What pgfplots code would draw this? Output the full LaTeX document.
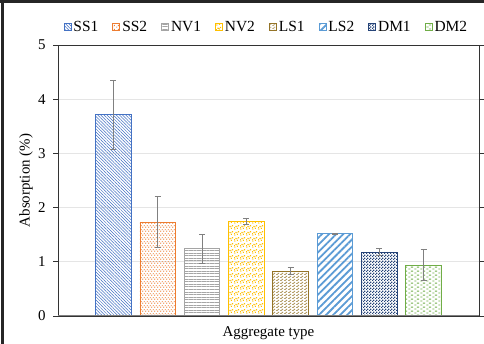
\documentclass[border=0pt]{standalone}
\usepackage{pgfplots}
\pgfplotsset{compat=1.18}
\usepackage{fontspec}
\setmainfont{Liberation Serif}
\usetikzlibrary{patterns,patterns.meta}

\definecolor{cSSa}{HTML}{4472C4}
\definecolor{cSSb}{HTML}{ED7D31}
\definecolor{cNVa}{HTML}{A5A5A5}
\definecolor{cNVb}{HTML}{FFC000}
\definecolor{cLSa}{HTML}{947428}
\definecolor{cLSb}{HTML}{5B9BD5}
\definecolor{cDMa}{HTML}{264478}
\definecolor{cDMb}{HTML}{70AD47}

\pgfdeclarepatternformonly{vdash}{\pgfpointorigin}{\pgfpoint{3.4bp}{4bp}}{\pgfpoint{3.4bp}{4bp}}{%
  \pgfsetlinewidth{0.9bp}%
  \pgfpathmoveto{\pgfpoint{0.85bp}{0.3bp}}\pgfpathlineto{\pgfpoint{0.85bp}{1.7bp}}%
  \pgfpathmoveto{\pgfpoint{2.55bp}{2.3bp}}\pgfpathlineto{\pgfpoint{2.55bp}{3.7bp}}%
  \pgfusepath{stroke}}
\pgfdeclarepatternformonly{confetti}{\pgfpointorigin}{\pgfpoint{6bp}{6bp}}{\pgfpoint{6bp}{6bp}}{%
  \pgfpathrectangle{\pgfpoint{0.3bp}{0.4bp}}{\pgfpoint{1.3bp}{1.3bp}}%
  \pgfpathrectangle{\pgfpoint{3.2bp}{1.2bp}}{\pgfpoint{1.3bp}{1.3bp}}%
  \pgfpathrectangle{\pgfpoint{1.5bp}{3.4bp}}{\pgfpoint{1.3bp}{1.3bp}}%
  \pgfpathrectangle{\pgfpoint{4.4bp}{4.3bp}}{\pgfpoint{1.3bp}{1.3bp}}%
  \pgfpathrectangle{\pgfpoint{0.2bp}{2.3bp}}{\pgfpoint{0.9bp}{0.9bp}}%
  \pgfpathrectangle{\pgfpoint{3.0bp}{3.2bp}}{\pgfpoint{0.9bp}{0.9bp}}%
  \pgfusepath{fill}}
\pgfdeclarepatternformonly{smallbrick}{\pgfpointorigin}{\pgfpoint{4bp}{3bp}}{\pgfpoint{4bp}{3bp}}{%
  \pgfsetlinewidth{0.8bp}%
  \pgfpathmoveto{\pgfpoint{0.3bp}{0.75bp}}\pgfpathlineto{\pgfpoint{2.0bp}{0.75bp}}%
  \pgfpathmoveto{\pgfpoint{2.3bp}{2.25bp}}\pgfpathlineto{\pgfpoint{3.9bp}{2.25bp}}%
  \pgfpathmoveto{\pgfpoint{2.0bp}{0.75bp}}\pgfpathlineto{\pgfpoint{2.3bp}{1.5bp}}%
  \pgfusepath{stroke}}
\pgfdeclarepatternformonly{checker}{\pgfpointorigin}{\pgfpoint{3bp}{3bp}}{\pgfpoint{3bp}{3bp}}{%
  \pgfpathrectangle{\pgfpointorigin}{\pgfpoint{1.5bp}{1.5bp}}%
  \pgfpathrectangle{\pgfpoint{1.5bp}{1.5bp}}{\pgfpoint{1.5bp}{1.5bp}}%
  \pgfusepath{fill}}
\pgfdeclarepatternformonly{hdash}{\pgfpointorigin}{\pgfpoint{6bp}{4.4bp}}{\pgfpoint{6bp}{4.4bp}}{%
  \pgfsetlinewidth{1bp}%
  \pgfpathmoveto{\pgfpoint{0.3bp}{1.1bp}}\pgfpathlineto{\pgfpoint{2.8bp}{1.1bp}}%
  \pgfpathmoveto{\pgfpoint{3.3bp}{3.3bp}}\pgfpathlineto{\pgfpoint{5.8bp}{3.3bp}}%
  \pgfusepath{stroke}}

\newcommand{\fs}{\fontsize{15}{18}\selectfont}

\begin{document}
\begin{tikzpicture}
\useasboundingbox (0,0) rectangle (484bp,344bp);
\fill[white] (0,0) rectangle (484bp,344bp);
\draw[line width=3bp, black!85] (0,342.4bp) -- (484bp,342.4bp);
\draw[line width=3bp, black!85] (2.5bp,0) -- (2.5bp,344bp);
\begin{axis}[
  at={(58bp,28bp)}, anchor=south west,
  scale only axis, width=421bp, height=271bp,
  xmin=-1.25, xmax=8.25, ymin=0, ymax=5,
  ytick={0,1,2,3,4,5}, xtick=\empty,
  axis line style={black!80, line width=0.8bp},
  tick style={black!80, line width=0.8bp},
  tick align=outside, major tick length=5bp,
  ymajorgrids, major grid style={black!10, line width=0.8bp},
  /pgf/number format/assume math mode=true,
  ticklabel style={font=\fs},
  yticklabel style={xshift=-4bp},
  xlabel={Aggregate type},
  xlabel style={font=\fs, at={(axis description cs:0.5,0)}, anchor=north, yshift=-7bp},
  ylabel={Absorption (\%)},
  ylabel style={font=\fs, at={(axis description cs:-0.076,0.5)}, anchor=center},
  legend image code/.code={\draw[#1] (0bp,-3.5bp) rectangle (7bp,3.5bp);},
  legend style={draw=none, fill=none,
    nodes={font=\fontsize{15.5}{18}\selectfont},
    legend columns=-1, at={(0.495,1.066)}, anchor=center,
    /tikz/every even column/.append style={column sep=12bp}},
  every axis plot/.append style={ybar, bar width=35.5bp, bar shift=0pt, line width=0.9bp,
    error bars/y dir=both, error bars/y explicit,
    error bars/error bar style={line width=1bp, color=black!50, solid},
    error bars/error mark options={line width=1bp, color=black!50, mark size=3bp, rotate=90}},
]
\addplot[draw=cSSa, pattern={Lines[angle=-45,distance=2.2bp,line width=0.5bp]}, pattern color=cSSa]
  coordinates {(0,3.71) +- (0,0.63)};
\addplot[draw=cSSb, pattern=vdash, pattern color=cSSb]
  coordinates {(1,1.73) +- (0,0.47)};
\addplot[draw=cNVa, pattern={Lines[angle=0,distance=2.6bp,line width=0.6bp]}, pattern color=cNVa]
  coordinates {(2,1.24) +- (0,0.27)};
\addplot[draw=cNVb, pattern=confetti, pattern color=cNVb]
  coordinates {(3,1.74) +- (0,0.05)};
\addplot[draw=cLSa, pattern=smallbrick, pattern color=cLSa]
  coordinates {(4,0.83) +- (0,0.06)};
\addplot[draw=cLSb, pattern={Lines[angle=45,distance=5bp,line width=1.8bp]}, pattern color=cLSb]
  coordinates {(5,1.52) +- (0,0.01)};
\addplot[draw=cDMa, pattern=checker, pattern color=cDMa]
  coordinates {(6,1.18) +- (0,0.06)};
\addplot[draw=cDMb, pattern=hdash, pattern color=cDMb]
  coordinates {(7,0.935) +- (0,0.285)};
\legend{SS1,SS2,NV1,NV2,LS1,LS2,DM1,DM2}
\draw[black!50, line width=1.6bp] (rel axis cs:0,0) -- (rel axis cs:1,0);
\end{axis}
\end{tikzpicture}
\end{document}
